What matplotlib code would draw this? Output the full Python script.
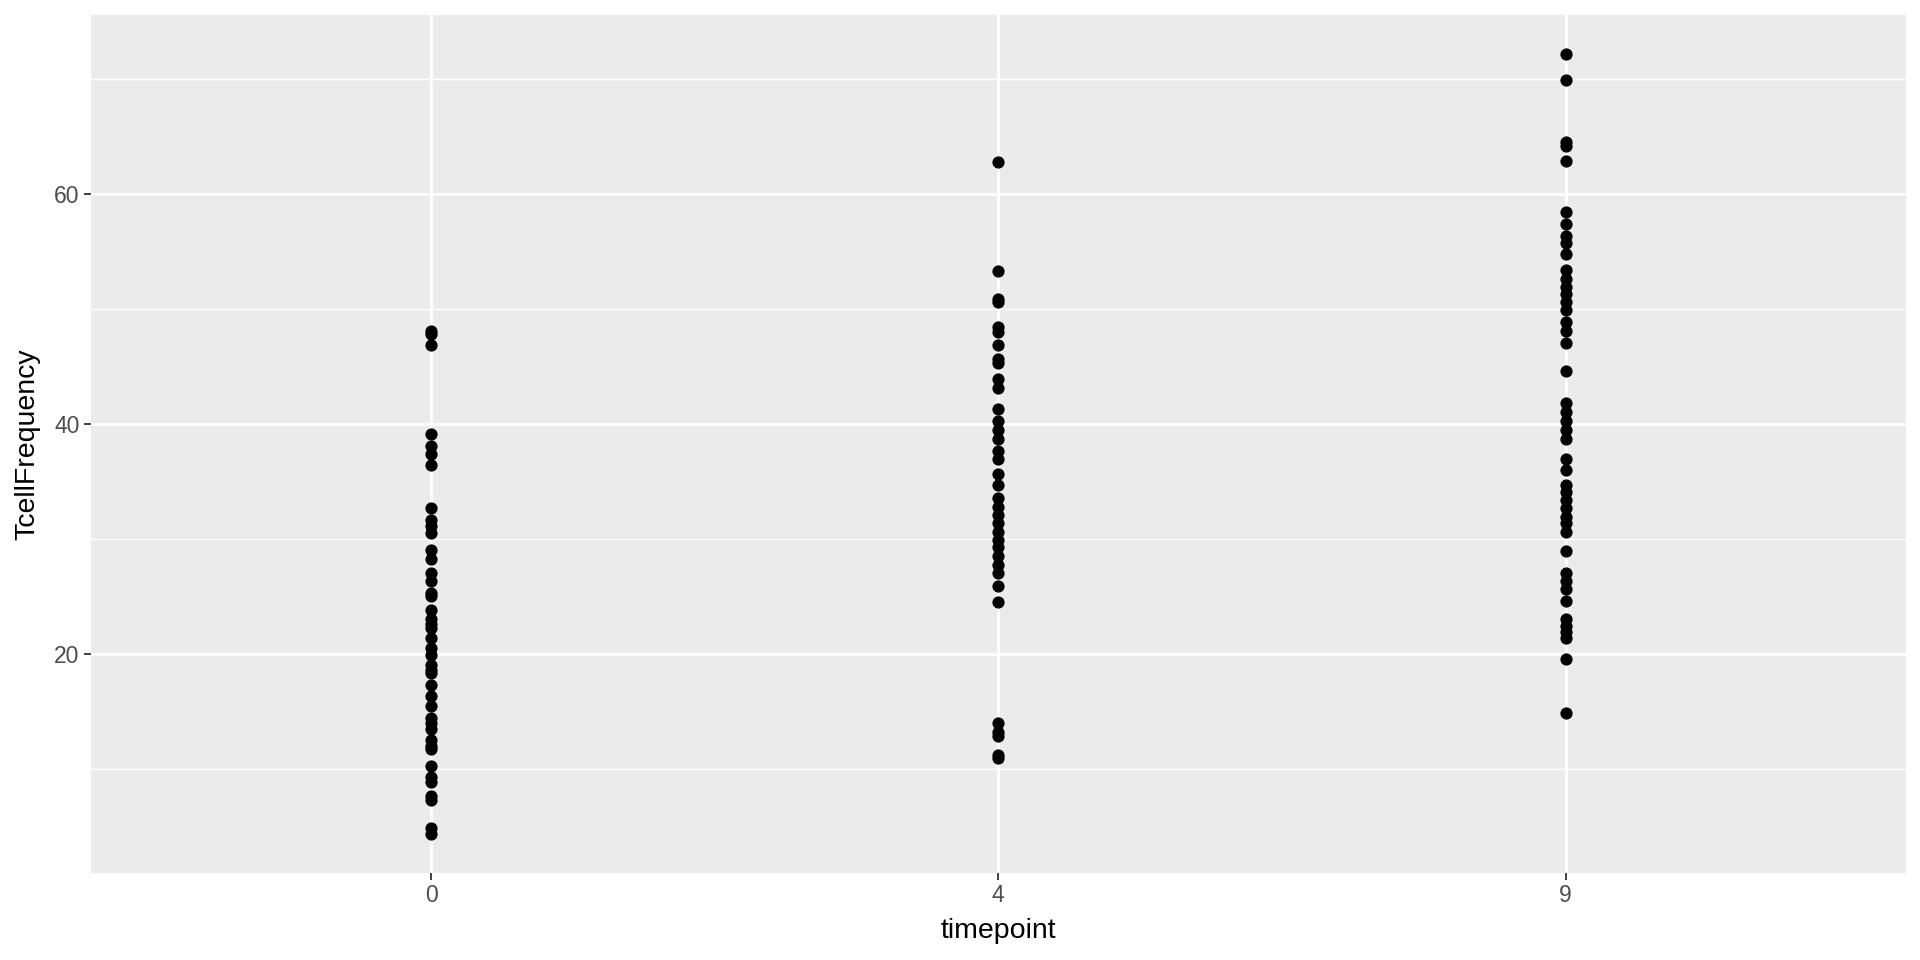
import numpy as np
import matplotlib
matplotlib.use("Agg")
import matplotlib.pyplot as plt

# values
timepoints = ["0", "4", "9"]
tcell_t0 = [48.1, 47.8, 46.9, 39.1, 38.1, 37.4, 36.4, 32.7, 31.6, 31.1, 30.5,
            29.0, 28.2, 27.0, 26.3, 25.3, 25.0, 23.8, 23.0, 22.6, 22.2, 21.4,
            20.5, 19.9, 19.0, 18.6, 18.3, 17.3, 16.3, 15.4, 14.4, 14.0, 13.4,
            12.5, 12.0, 11.7, 10.2, 9.3, 8.8, 7.6, 7.3, 4.85, 4.3]
tcell_t4 = [62.8, 53.3, 50.9, 50.6, 48.4, 48.0, 46.9, 45.6, 45.3, 43.9, 43.1,
            41.3, 40.2, 39.5, 38.7, 37.6, 36.9, 35.6, 34.7, 33.5, 32.8, 32.1,
            31.4, 30.6, 29.9, 29.3, 28.5, 27.7, 27.0, 25.9, 24.5, 14.0, 13.2,
            12.8, 11.2, 10.9]
tcell_t9 = [72.2, 69.9, 64.5, 64.2, 62.9, 58.4, 57.4, 56.3, 55.7, 54.8, 53.4,
            52.6, 51.9, 51.3, 50.6, 49.9, 48.9, 48.1, 47.0, 44.6, 41.8, 41.0,
            40.2, 39.5, 38.7, 36.9, 36.0, 34.7, 34.1, 33.4, 32.7, 31.9, 31.4,
            30.6, 28.9, 27.0, 26.3, 25.6, 24.6, 23.0, 22.4, 21.9, 21.4, 19.5,
            14.85]

plt.rcParams['font.family'] = ['Liberation Sans', 'DejaVu Sans']

fig = plt.figure(figsize=(19.2, 9.6), dpi=100)
ax = fig.add_axes([0.0472, 0.0906, 0.9455, 0.894])
ax.set_facecolor('#EBEBEB')

groups = [tcell_t0, tcell_t4, tcell_t9]
for i, vals in enumerate(groups):
    ax.plot(np.full(len(vals), i + 1), vals, 'o', color='black',
            markersize=8.8, markeredgewidth=0, zorder=3)

allv = np.concatenate([np.array(g) for g in groups])
lo, hi = allv.min(), allv.max()
pad = (hi - lo) * 0.05
ax.set_ylim(lo - pad, hi + pad)
ax.set_xlim(0.4, 3.6)

ax.set_xticks([1, 2, 3])
ax.set_xticklabels(timepoints)
ax.set_yticks([20, 40, 60])
ax.set_yticks([10, 30, 50, 70], minor=True)

ax.grid(which='major', color='white', linewidth=2.0, zorder=1)
ax.grid(which='minor', axis='y', color='white', linewidth=1.0, zorder=1)
ax.set_axisbelow(True)
for s in ax.spines.values():
    s.set_visible(False)

ax.tick_params(axis='both', which='major', length=5, width=1.3, color='#333333',
               labelsize=16.5, labelcolor='#4D4D4D', pad=3)
ax.tick_params(axis='y', which='minor', length=0)

ax.set_xlabel('timepoint', fontsize=20.5, color='black', labelpad=8)
ax.set_ylabel('TcellFrequency', fontsize=20.5, color='black', labelpad=10)

fig.savefig('out.png', dpi=100, facecolor='white')
